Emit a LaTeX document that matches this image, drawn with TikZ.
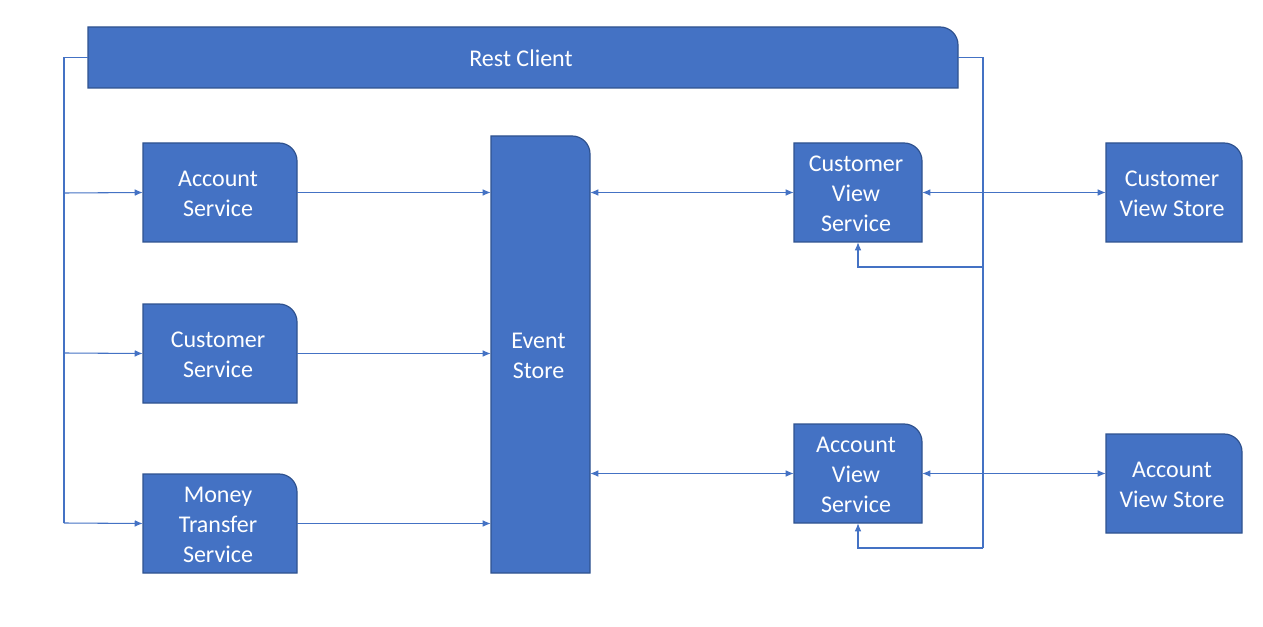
\documentclass[tikz,border=0pt]{standalone}
\usepackage{fontspec}
\setmainfont{Carlito}
\usetikzlibrary{arrows.meta,calc}
\definecolor{boxfill}{HTML}{4472C4}
\definecolor{boxline}{HTML}{2F528F}
\definecolor{conncol}{HTML}{4472C4}
% #1 name, #2 x1, #3 y1, #4 x2, #5 y2, #6 text
\newcommand\rbox[6]{%
  \filldraw[fill=boxfill,draw=boxline,line width=0.9pt]
    (#2,#5) -- (#2,#3) -- ({#4-18},#3)
    .. controls ({#4-8},#3) and (#4,{#3+8}) .. (#4,{#3+18}) -- (#4,#5) -- cycle;
  \node[boxtext,minimum width={(#4-#2)*0.75pt},minimum height={(#5-#3)*0.75pt}]
    (#1) at ({(#2+#4)/2},{(#3+#5)/2}) {};
  \node[boxtext] (#1-label) at ($(#1.center)+(-2,1)$) {#6};
}
\begin{document}
\begin{tikzpicture}[x=0.75pt,y=-0.75pt,
  boxtext/.style={rectangle,inner sep=0pt,draw=none,text=white,align=center,
    font=\fontsize{18}{22.5}\selectfont},
  conn/.style={draw=conncol,line width=0.8pt},
  arr/.style={conn,-{Latex[length=6pt,width=5pt]}},
  darr/.style={conn,{Latex[length=6pt,width=5pt]}-{Latex[length=6pt,width=5pt]}}]
\useasboundingbox (0,0) rectangle (1263,627);
\fill[white] (0,0) rectangle (1263,627);

\rbox{rc}{88}{27}{958}{88}{Rest Client}
\rbox{as}{143}{143}{297}{242}{Account\\Service}
\rbox{cs}{143}{304}{297}{403}{Customer\\Service}
\rbox{mts}{143}{474}{297}{573}{Money\\Transfer\\Service}
\rbox{es}{491}{136}{590}{573}{Event\\Store}
\rbox{cvs}{794}{143}{922}{242}{Customer\\View\\Service}
\rbox{avs}{794}{424}{922}{523}{Account\\View\\Service}
\rbox{cvst}{1106}{143}{1242}{242}{Customer\\View Store}
\rbox{avst}{1106}{434}{1242}{533}{Account\\View Store}

\coordinate (lb1) at (64,193);
\coordinate (lb2) at (64,353);
\coordinate (lb3) at (64,523);
\coordinate (rb1) at (983,267);
\coordinate (rb2) at (983,548);

% left bus
\draw[conn] (rc.west) -| (lb3);
\draw[arr] (lb1) -- (as.west);
\draw[arr] (lb2) -- (cs.west);
\draw[arr] (lb3) -- (mts.west);

% right bus
\draw[conn] (rc.east) -| (rb2);
\draw[arr] (rb1) -| (cvs.south);
\draw[arr] (rb2) -| (avs.south);

% services to event store
\draw[arr] (as.east) -- (as.east -| es.west);
\draw[arr] (cs.east) -- (cs.east -| es.west);
\draw[arr] (mts.east) -- (mts.east -| es.west);

% event store to views
\draw[darr] (cvs.west -| es.east) -- (cvs.west);
\draw[darr] (avs.west -| es.east) -- (avs.west);

% views to stores
\draw[darr] (cvs.east) -- (cvs.east -| cvst.west);
\draw[darr] (avs.east) -- (avs.east -| avst.west);
\end{tikzpicture}
\end{document}
